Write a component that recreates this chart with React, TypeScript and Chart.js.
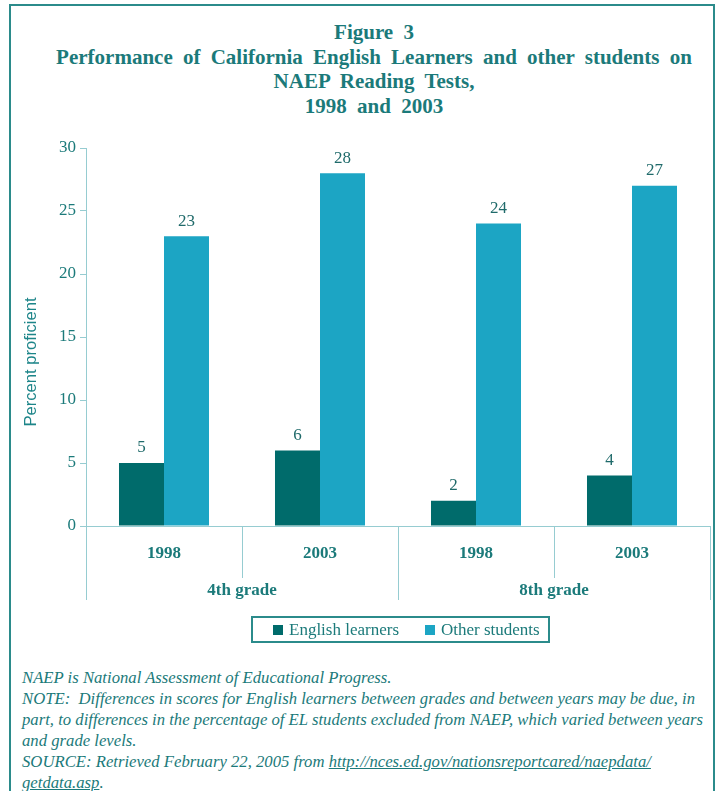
import React, { useEffect, useRef } from "react";
import { Chart, registerables } from "chart.js";

Chart.register(...registerables);

const categories = ["1998", "2003", "1998", "2003"];
const grades = ["4th grade", "8th grade"];
const englishLearners = [5, 6, 2, 4];
const otherStudents = [23, 28, 24, 27];
const seriesNames = ["English learners", "Other students"];
const yMax = 30;
const yStep = 5;

const TEAL = "#1b7a7a";
const DARK = "#006b6b";
const LIGHT = "#1ca5c4";
const AXIS = "#96ccd1";
const SERIF = "'Liberation Serif', 'Times New Roman', serif";
const SANS = "'Liberation Sans', Arial, sans-serif";

const overlay = {
  id: "overlay",
  afterDraw(chart: any) {
    const ctx = chart.ctx;
    const xs = chart.scales.x;
    const area = chart.chartArea;
    const bottom = area.bottom;
    ctx.save();

    // category separators
    const n = categories.length;
    const bounds: number[] = [];
    bounds.push(area.left);
    for (let i = 0; i < n - 1; i++) {
      bounds.push((xs.getPixelForValue(i) + xs.getPixelForValue(i + 1)) / 2);
    }
    bounds.push(area.right);
    ctx.strokeStyle = AXIS;
    ctx.lineWidth = 1;
    bounds.forEach((bx, idx) => {
      const long = idx === 0 || idx === n || idx === n / 2;
      ctx.beginPath();
      ctx.moveTo(Math.round(bx) + 0.5, bottom);
      ctx.lineTo(Math.round(bx) + 0.5, bottom + (long ? 74 : 52));
      ctx.stroke();
    });

    // year labels
    ctx.fillStyle = TEAL;
    ctx.font = `bold 17px ${SERIF}`;
    ctx.textAlign = "center";
    ctx.textBaseline = "middle";
    categories.forEach((c, i) => {
      ctx.fillText(c, xs.getPixelForValue(i), bottom + 28);
    });
    // grade labels
    grades.forEach((g, gi) => {
      const x0 = bounds[gi * 2];
      const x1 = bounds[gi * 2 + 2];
      ctx.fillText(g, (x0 + x1) / 2, bottom + 65);
    });

    // data labels
    ctx.font = `17px ${SERIF}`;
    ctx.fillStyle = "#1f6a6a";
    chart.data.datasets.forEach((ds: any, di: number) => {
      const meta = chart.getDatasetMeta(di);
      meta.data.forEach((bar: any, i: number) => {
        ctx.fillText(String(ds.data[i]), bar.x, bar.y - 15);
      });
    });

    // y axis title
    ctx.save();
    ctx.translate(31, 232);
    ctx.rotate(-Math.PI / 2);
    ctx.font = `16.6px ${SANS}`;
    ctx.fillStyle = "#1d8589";
    ctx.fillText("Percent proficient", 0, 0);
    ctx.restore();

    // legend
    const lx = 252, ly = bottom + 91, lw = 297, lh = 25;
    ctx.strokeStyle = "#2b8b8b";
    ctx.lineWidth = 2;
    ctx.strokeRect(lx, ly, lw, lh);
    const colors = [DARK, LIGHT];
    const itemX = [273, 425];
    ctx.textAlign = "left";
    ctx.font = `17px ${SERIF}`;
    seriesNames.forEach((s, i) => {
      ctx.fillStyle = colors[i];
      ctx.fillRect(itemX[i], ly + 8, 10, 10);
      ctx.fillStyle = TEAL;
      ctx.fillText(s, itemX[i] + 16, ly + 13.5);
    });

    ctx.restore();
  },
};

function ChartBox() {
  const ref = useRef<HTMLCanvasElement | null>(null);
  useEffect(() => {
    if (!ref.current) return;
    const chart = new Chart(ref.current, {
      type: "bar",
      data: {
        labels: categories,
        datasets: [
          { label: seriesNames[0], data: englishLearners, backgroundColor: DARK },
          { label: seriesNames[1], data: otherStudents, backgroundColor: LIGHT },
        ],
      },
      options: {
        responsive: false,
        animation: false,
        devicePixelRatio: 1,
        layout: { padding: { top: 18, right: 7, left: 0, bottom: 0 } },
        datasets: { bar: { categoryPercentage: 0.577, barPercentage: 1 } },
        plugins: { legend: { display: false }, tooltip: { enabled: false }, title: { display: false } },
        scales: {
          x: {
            ticks: { display: false },
            grid: { display: true, drawOnChartArea: false, drawTicks: false },
            border: { display: true, color: AXIS, width: 1 },
            afterFit: (s: any) => { s.height = 124; },
          },
          y: {
            min: 0,
            max: yMax,
            ticks: { stepSize: yStep, color: TEAL, font: { family: SERIF, size: 17 }, padding: 4 },
            grid: { drawOnChartArea: false, drawTicks: true, tickLength: 6, color: AXIS },
            border: { display: true, color: AXIS, width: 1 },
            afterFit: (s: any) => { s.width = 86; },
          },
        },
      } as any,
      plugins: [overlay],
    });
    return () => chart.destroy();
  }, []);
  return (
    <canvas
      ref={ref}
      width={717}
      height={520}
      style={{ position: "absolute", left: 0, top: 130, width: 717, height: 520 }}
    />
  );
}

export default function App() {
  return (
    <div style={{ position: "absolute", left: 0, top: 0, width: 717, height: 791, overflow: "hidden", background: "#fff" }}>
      <div
        style={{
          position: "absolute",
          left: 9,
          top: 4,
          width: 702,
          height: 820,
          border: "2px solid #2b8b8b",
          borderBottom: "none",
        }}
      />
      <div
        style={{
          position: "absolute",
          left: 0,
          top: 20,
          width: 748,
          textAlign: "center",
          fontFamily: SERIF,
          fontWeight: "bold",
          fontSize: 21,
          lineHeight: "24.5px",
          color: TEAL,
          wordSpacing: 5,
          whiteSpace: "nowrap",
        }}
      >
        <div>Figure 3</div>
        <div>Performance of California English Learners and other students on</div>
        <div>NAEP Reading Tests,</div>
        <div>1998 and 2003</div>
      </div>
      <ChartBox />
      <div
        style={{
          position: "absolute",
          left: 22,
          top: 667,
          fontFamily: SERIF,
          fontStyle: "italic",
          fontSize: 16.7,
          lineHeight: "21px",
          color: TEAL,
          whiteSpace: "pre",
        }}
      >
        <div>NAEP is National Assessment of Educational Progress.</div>
        <div>NOTE:  Differences in scores for English learners between grades and between years may be due, in</div>
        <div>part, to differences in the percentage of EL students excluded from NAEP, which varied between years</div>
        <div>and grade levels.</div>
        <div>
          SOURCE: Retrieved February 22, 2005 from{" "}
          <span style={{ textDecoration: "underline" }}>http://nces.ed.gov/nationsreportcared/naepdata/</span>
        </div>
        <div>
          <span style={{ textDecoration: "underline" }}>getdata.asp</span>.
        </div>
      </div>
    </div>
  );
}
